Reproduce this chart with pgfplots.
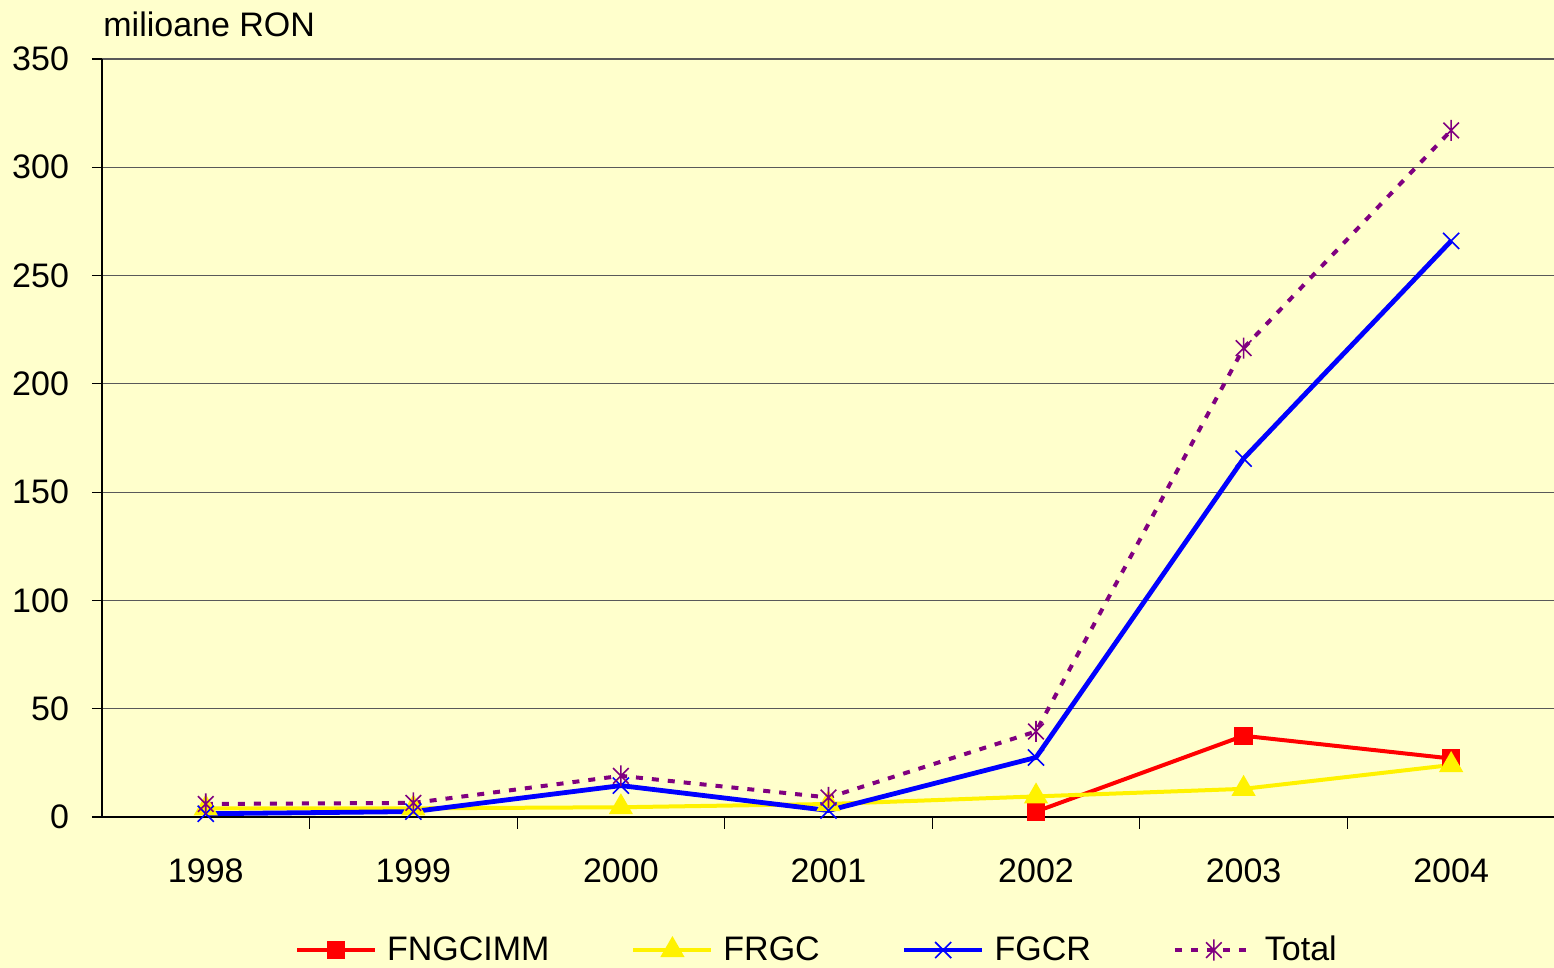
\documentclass[border=0pt]{standalone}
\usepackage{fontspec}
\setmainfont{Liberation Sans}
\usepackage{pgfplots}
\pgfplotsset{compat=1.18}
\definecolor{bg}{RGB}{255,255,204}
\definecolor{tot}{RGB}{128,0,128}
\pgfdeclareplotmark{xstar}{%
  \pgfpathmoveto{\pgfqpoint{-\pgfplotmarksize}{-\pgfplotmarksize}}%
  \pgfpathlineto{\pgfqpoint{\pgfplotmarksize}{\pgfplotmarksize}}%
  \pgfpathmoveto{\pgfqpoint{-\pgfplotmarksize}{\pgfplotmarksize}}%
  \pgfpathlineto{\pgfqpoint{\pgfplotmarksize}{-\pgfplotmarksize}}%
  \pgfpathmoveto{\pgfqpoint{0pt}{-1.35\pgfplotmarksize}}%
  \pgfpathlineto{\pgfqpoint{0pt}{1.35\pgfplotmarksize}}%
  \pgfusepathqstroke}
\begin{document}
\begin{tikzpicture}
\fill[bg] (-51pt,-75.5pt) rectangle (726pt,408.5pt);
\clip (-51pt,-75.5pt) rectangle (726pt,408.5pt);
\begin{axis}[
  at={(0,0)}, anchor=south west,
  scale only axis, width=727.5pt, height=379pt,
  xmin=-0.5, xmax=6.51, ymin=0, ymax=350,
  axis x line=bottom, axis y line=left,
  axis line style={-, black, line width=0.6pt},
  font=\fontsize{17}{20}\selectfont,
  /pgf/number format/assume math mode=true,
  ytick={0,50,...,350},
  xtick={0,...,6},
  xticklabels={1998,1999,2000,2001,2002,2003,2004},
  every major x tick/.append style={draw=none},
  minor xtick={0.5,1.5,...,5.5},
  tick align=outside,
  major tick length=5pt, minor tick length=6pt,
  tick style={black, line width=0.6pt},
  ymajorgrids, major grid style={black!65, line width=0.6pt},
  xticklabel style={yshift=-12.5pt},
  yticklabel style={xshift=-8pt},
  legend style={at={(0.492,-0.1755)}, anchor=center, draw=none, fill=none,
    legend columns=4, font=\fontsize{17}{20}\selectfont,
    /tikz/every even column/.append style={column sep=39pt}},
  legend image code/.code={\draw[mark repeat=2,mark phase=2,#1] plot coordinates {(0pt,0pt)(19.5pt,0pt)(39pt,0pt)}; \path (42pt,0pt);},
  clip=false,
]
\addplot[red, line width=2pt, mark=square*, mark size=3.6pt, mark options={solid}] coordinates {(4,2.5)(5,37.5)(6,27)};
\addlegendentry{FNGCIMM}
\addplot[yellow, line width=2pt, mark=triangle*, mark size=5pt, mark options={solid}] coordinates {(0,4)(1,4)(2,4.5)(3,6)(4,9.5)(5,13)(6,24)};
\addlegendentry{FRGC}
\addplot[blue, line width=2.4pt, mark=x, mark size=5.7pt, mark options={solid, line width=0.8pt}] coordinates {(0,1.5)(1,2.5)(2,14.5)(3,3)(4,27.5)(5,165.5)(6,266)};
\addlegendentry{FGCR}
\addplot[tot, line width=2pt, dash pattern=on 3.5pt off 4.5pt, mark=xstar, mark size=3.9pt, mark options={solid, line width=0.8pt}] coordinates {(0,6)(1,6.5)(2,19)(3,9)(4,39.5)(5,216.5)(6,317)};
\addlegendentry{Total}
\node[anchor=base west, inner sep=0pt] at ([yshift=11pt,xshift=0.5pt]rel axis cs:0,1) {milioane RON};
\end{axis}
\end{tikzpicture}
\end{document}
